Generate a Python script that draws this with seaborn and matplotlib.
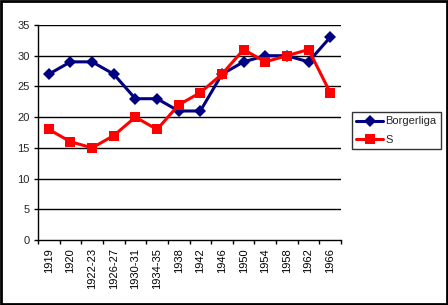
import matplotlib
matplotlib.use("Agg")
import matplotlib.pyplot as plt
import seaborn as sns
import pandas as pd
from matplotlib.patches import Rectangle

years = ["1919", "1920", "1922-23", "1926-27", "1930-31", "1934-35", "1938",
         "1942", "1946", "1950", "1954", "1958", "1962", "1966"]
borgerliga = [27, 29, 29, 27, 23, 23, 21, 21, 27, 29, 30, 30, 29, 33]
s_values = [18, 16, 15, 17, 20, 18, 22, 24, 27, 31, 29, 30, 31, 24]
yticks = [0, 5, 10, 15, 20, 25, 30, 35]

sns.set_style("white")
plt.rcParams['font.family'] = ['Liberation Sans', 'DejaVu Sans']

df = pd.DataFrame({
    "year": years * 2,
    "value": borgerliga + s_values,
    "series": ["Borgerliga"] * len(years) + ["S"] * len(years),
})

fig = plt.figure(figsize=(4.48, 3.05), dpi=100)
ax = fig.add_axes([38 / 448, 1 - 240 / 305, (341 - 38) / 448, (240 - 25) / 305])

sns.lineplot(data=df, x="year", y="value", hue="series", style="series",
             palette={"Borgerliga": "#000080", "S": "#FF0000"},
             markers={"Borgerliga": "D", "S": "s"},
             dashes={"Borgerliga": "", "S": ""},
             sort=False, linewidth=2.2, markersize=6, markeredgewidth=0,
             ax=ax, legend=True, zorder=3)
for line in ax.lines:
    if line.get_marker() == "s":
        line.set_markersize(7)

ax.set_xlim(-0.5, len(years) - 0.5)
ax.set_ylim(0, 35)
ax.set_yticks(yticks)
ax.set_xticks(range(len(years)))
ax.set_xticklabels(years, rotation=90)
ax.set_xticks([i - 0.5 for i in range(len(years) + 1)], minor=True)
ax.tick_params(axis="x", which="major", length=0, pad=6, labelsize=8, colors="black")
ax.tick_params(axis="x", which="minor", length=3, width=1, color="black", direction="out")
ax.tick_params(axis="y", length=3, width=1, color="black", direction="out", pad=3, labelsize=8)
ax.xaxis.set_ticks_position("bottom")
ax.yaxis.set_ticks_position("left")
ax.set_xlabel("")
ax.set_ylabel("")
ax.grid(False)
for y in yticks[1:]:
    ax.axhline(y, color="black", linewidth=1, zorder=1)
for side in ["top", "right"]:
    ax.spines[side].set_visible(False)
for side in ["left", "bottom"]:
    ax.spines[side].set_color("black")
    ax.spines[side].set_linewidth(1)

handles, labels = ax.get_legend_handles_labels()
ax.get_legend().remove()
leg = fig.legend(handles, labels, loc="upper left",
                 bbox_to_anchor=(352 / 448, 1 - 112 / 305),
                 frameon=True, fancybox=False, fontsize=8,
                 handlelength=2.4, handletextpad=0.2, borderpad=0.4,
                 labelspacing=0.75, borderaxespad=0)
leg.get_frame().set_edgecolor("black")
leg.get_frame().set_linewidth(1)

fig.patches.append(Rectangle((0.002, 0.003), 0.995, 0.994, transform=fig.transFigure,
                             fill=False, edgecolor="black", linewidth=2))

fig.savefig("out.png", dpi=100)
